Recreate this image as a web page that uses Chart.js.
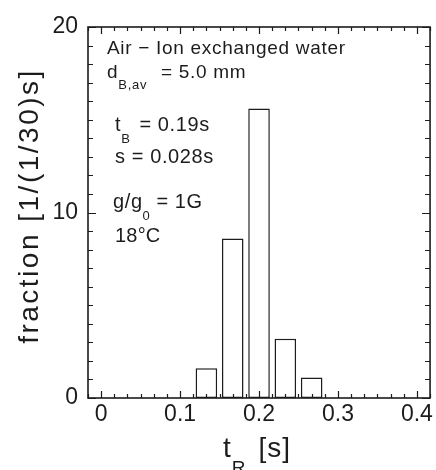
<!DOCTYPE html>
<html>
<head>
<meta charset="utf-8">
<script src="https://cdn.jsdelivr.net/npm/chart.js@4.4.1/dist/chart.umd.min.js"></script>
<style>
  html, body { margin: 0; padding: 0; background: #fff; }
  #wrap { width: 436px; height: 470px; }
</style>
</head>
<body>
<div id="wrap"><canvas id="chart" width="436" height="470"></canvas></div>
<script>
// histogram of t_R, bin width 1/30 s
const binCenters = [0.1333, 0.1667, 0.2, 0.2333, 0.2667];
const fractions = [1.6, 8.6, 15.6, 3.2, 1.1];

const xTickValues = [0, 0.1, 0.2, 0.3, 0.4];
const xTickLabels = ['0', '0.1', '0.2', '0.3', '0.4'];
const yTickValues = [0, 10, 20];
const yTickLabels = ['0', '10', '20'];

const xMin = -1 / 60, xMax = 0.4 + 1 / 60;
const xMinorStep = 1 / 60;
const yMinorStep = 1;

const ink = '#1c1c1c';
const fontName = '"Liberation Sans", Arial, sans-serif';

// draw a run of [text, isSub] pieces starting at x, baseline y
const drawRuns = (ctx, x, y, runs, size, subSize, spacing) => {
    ctx.textAlign = 'left';
    ctx.textBaseline = 'alphabetic';
    runs.forEach(([txt, sub, gap]) => {
        if (gap) x += gap;
        ctx.font = (sub ? subSize : size) + 'px ' + fontName;
        ctx.letterSpacing = spacing + 'px';
        ctx.fillText(txt, x, sub ? y + size * 0.6 : y);
        x += ctx.measureText(txt).width;
    });
    ctx.letterSpacing = '0px';
};

const framePlugin = {
    id: 'frame',
    afterDatasetsDraw(chart) {
        const { ctx, chartArea: a, scales: { x, y } } = chart;
        ctx.save();
        ctx.strokeStyle = ink;
        ctx.lineWidth = 1.2;
        // inward ticks on all four sides
        ctx.beginPath();
        for (let v = 0; v <= 20 + 1e-9; v += yMinorStep) {
            const py = Math.round(y.getPixelForValue(v)) + 0.5;
            const len = (v % 10 === 0) ? 8 : 5;
            ctx.moveTo(a.left, py); ctx.lineTo(a.left + len, py);
            ctx.moveTo(a.right, py); ctx.lineTo(a.right - len, py);
        }
        for (let k = -1; k <= 25; k++) {
            const v = k * xMinorStep;
            if (v < xMin - 1e-9 || v > xMax + 1e-9) continue;
            const px = Math.round(x.getPixelForValue(v)) + 0.5;
            const len = (k % 6 === 0) ? 7 : 4;
            ctx.moveTo(px, a.bottom); ctx.lineTo(px, a.bottom - len);
            ctx.moveTo(px, a.top); ctx.lineTo(px, a.top + len);
        }
        ctx.stroke();
        // box
        ctx.lineWidth = 1.6;
        ctx.strokeRect(a.left, a.top, a.right - a.left, a.bottom - a.top);

        // annotations
        ctx.fillStyle = ink;
        drawRuns(ctx, 107, 54, [['Air \u2212 Ion exchanged water']], 19, 13, 0.7);
        drawRuns(ctx, 107, 78, [['d'], ['B,av', true], ['= 5.0 mm', false, 14]], 19, 13, 0.7);
        drawRuns(ctx, 115, 131, [['t'], ['B', true], ['= 0.19s', false, 9]], 20, 13, 0.6);
        drawRuns(ctx, 115, 163, [['s = 0.028s']], 20, 13, 0.6);
        drawRuns(ctx, 113, 208, [['g/g'], ['0', true], ['= 1G', false, 6]], 20, 13, 0.6);
        drawRuns(ctx, 115, 242, [['18\u00b0C']], 20, 13, 0.2);

        // axis titles
        drawRuns(ctx, 223, 457, [['t'], ['R', true], ['[s]', false, 12]], 28, 19, 1);
        ctx.translate(38, 206);
        ctx.rotate(-Math.PI / 2);
        ctx.font = '28px ' + fontName;
        ctx.letterSpacing = '2.5px';
        ctx.textAlign = 'center';
        ctx.textBaseline = 'alphabetic';
        ctx.fillText('fraction [1/(1/30)s]', 0, 0);
        ctx.restore();
    }
};

new Chart(document.getElementById('chart'), {
    type: 'bar',
    data: {
        datasets: [{
            data: binCenters.map((c, i) => ({ x: c, y: fractions[i] })),
            backgroundColor: '#ffffff',
            borderColor: ink,
            borderWidth: 1.5,
            borderSkipped: false,
            barPercentage: 0.82,
            categoryPercentage: 1
        }]
    },
    options: {
        responsive: false,
        animation: false,
        events: [],
        layout: { padding: { top: 27, right: 3, left: 0, bottom: 0 } },
        plugins: { legend: { display: false }, tooltip: { enabled: false } },
        scales: {
            x: {
                type: 'linear',
                min: xMin,
                max: xMax,
                offset: false,
                grid: { display: false, drawTicks: false, tickLength: 0 },
                border: { display: false },
                afterBuildTicks: s => { s.ticks = xTickValues.map(v => ({ value: v })); },
                afterFit: s => { s.height = 72; },
                ticks: {
                    autoSkip: false,
                    maxRotation: 0,
                    padding: 3,
                    color: ink,
                    font: { family: fontName, size: 23 },
                    callback: v => xTickLabels[xTickValues.indexOf(v)] ?? ''
                }
            },
            y: {
                min: 0,
                max: 20,
                grid: { display: false, drawTicks: false, tickLength: 0 },
                border: { display: false },
                afterBuildTicks: s => { s.ticks = yTickValues.map(v => ({ value: v })); },
                afterFit: s => { s.width = 88; },
                ticks: {
                    padding: 10,
                    color: ink,
                    font: { family: fontName, size: 23 },
                    callback: v => yTickLabels[yTickValues.indexOf(v)] ?? ''
                }
            }
        }
    },
    plugins: [framePlugin]
});
</script>
</body>
</html>
